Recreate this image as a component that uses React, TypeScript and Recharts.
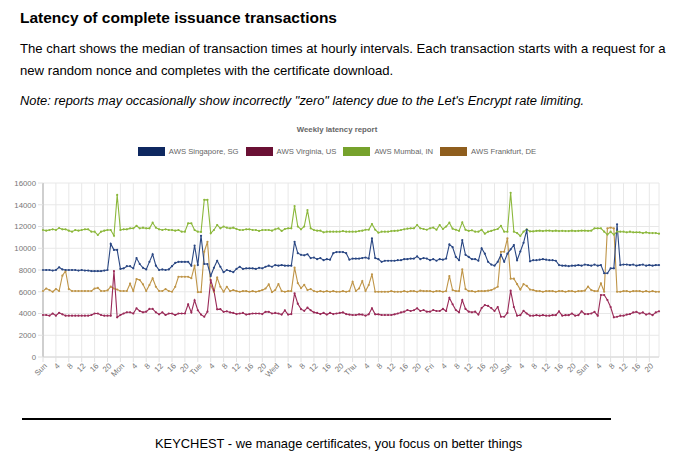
import React from 'react';
import { LineChart, Line, XAxis, YAxis, CartesianGrid } from 'recharts';

// tick labels
const dayNames = ['Sun', 'Mon', 'Tue', 'Wed', 'Thu', 'Fri', 'Sat', 'Sun'];
const yTicks = [0, 2000, 4000, 6000, 8000, 10000, 12000, 14000, 16000];

// hourly medians (ms), Sun 0h .. next Sun 23h
const singapore = [
  8000, 8000, 8000, 7950, 8000, 8250, 8050, 8000, 8000, 8000, 8000, 7950, 8000, 7950, 7950, 7900, 7900, 7900, 7900, 7950, 8000, 10400, 9850, 9850,
  8100, 8150, 8350, 8350, 8150, 9100, 8550, 8200, 8050, 8750, 9450, 8400, 8000, 8050, 8000, 8050, 8350, 8650, 8750, 8750, 8750, 8750, 8400, 10250,
  8450, 11150, 8550, 8550, 7450, 8200, 8850, 8300, 7800, 8000, 7900, 7800, 8100, 8300, 8100, 8150, 8150, 8150, 8100, 8200, 8150, 8300, 8400, 8300,
  8450, 8400, 8450, 8400, 8400, 8400, 10600, 9550, 9400, 9350, 9450, 9100, 9150, 9000, 9100, 8900, 9000, 8950, 9550, 9650, 9650, 9650, 9550, 8950,
  9050, 9050, 9050, 9100, 9150, 9050, 10900, 9100, 9000, 8750, 8850, 8850, 8850, 8850, 8900, 8900, 9000, 9000, 9050, 9050, 9250, 9000, 9100, 9050,
  8900, 9000, 8850, 9000, 8950, 9050, 10350, 10100, 9200, 8900, 10750, 9400, 9200, 9000, 9000, 8850, 10000, 9500, 8750, 8500, 8400, 8750, 9400, 8750,
  9500, 9900, 10300, 8900, 9700, 10500, 11700, 8800, 8900, 8900, 8950, 9000, 8950, 8900, 8900, 8850, 8450, 8400, 8400, 8350, 8400, 8400, 8450, 8400,
  8500, 8450, 8400, 8500, 8400, 8450, 7700, 7700, 8150, 8150, 12200, 8450, 8500, 8500, 8450, 8500, 8400, 8450, 8500, 8400, 8450, 8400, 8450, 8450,
];

const virginia = [
  3860, 3860, 3800, 4000, 3800, 4070, 3920, 3800, 3800, 3800, 3800, 3800, 3800, 3800, 3800, 3860, 4000, 4000, 3860, 3800, 3800, 3800, 7900, 3650,
  3860, 4000, 4110, 4110, 4000, 4480, 4230, 4110, 4170, 4420, 4420, 4110, 3920, 4110, 3860, 4000, 4000, 3860, 4000, 4000, 4000, 4850, 4100, 5220,
  4300, 3900, 3700, 4170, 7080, 6100, 4380, 4400, 4150, 4200, 4100, 4050, 3950, 4000, 4050, 3900, 3950, 4000, 4000, 4000, 3950, 4150, 4150, 4000,
  4050, 4000, 3900, 4290, 3900, 3950, 5860, 4900, 4400, 4250, 4540, 4300, 4100, 4050, 3950, 4050, 3900, 4050, 3950, 4000, 4050, 4100, 3950, 3900,
  3860, 3860, 3920, 3900, 3800, 3920, 4480, 3920, 3920, 3860, 3860, 3860, 3860, 3920, 4000, 4100, 4170, 4320, 4230, 4300, 4480, 4230, 4320, 4170,
  4170, 4320, 4230, 4230, 4420, 4230, 5450, 4850, 4320, 4110, 5240, 4420, 4170, 4110, 4170, 3900, 4500, 4780, 4700, 4500, 4230, 4600, 3700, 3700,
  4050, 6100, 4600, 3800, 3850, 4250, 4000, 3800, 3800, 3850, 3800, 3850, 3800, 3800, 3850, 3850, 4200, 3800, 3850, 3850, 4000, 3800, 3850, 4200,
  3950, 3950, 4000, 4150, 3800, 5700, 5700, 5240, 4600, 3650, 3700, 3800, 3800, 3900, 3950, 4100, 4150, 4000, 4100, 3900, 4000, 3850, 4100, 4200,
];

const mumbai = [
  11680, 11620, 11680, 11740, 11680, 11860, 11740, 11740, 11620, 11520, 11680, 11620, 11680, 11740, 11740, 11520, 11520, 11220, 11520, 11620, 11680, 11680, 11150, 14900,
  11680, 11740, 11740, 11830, 11830, 12070, 11830, 11890, 11830, 11830, 12350, 11890, 11740, 11680, 11740, 11680, 11680, 11620, 11680, 11520, 11520, 12290, 12290, 11680,
  11520, 11500, 14450, 14450, 11370, 11680, 12140, 11830, 12000, 11890, 11830, 11890, 11770, 11680, 11680, 11740, 11740, 11680, 11680, 11590, 11680, 11680, 11680, 11620,
  11740, 11830, 11590, 11770, 11830, 11830, 13880, 12000, 11740, 12000, 13510, 11830, 11680, 11620, 11620, 11460, 11520, 11520, 11520, 11520, 11520, 11580, 11520, 11520,
  11520, 11520, 11580, 11620, 11700, 11700, 12230, 11700, 11430, 11520, 11520, 11520, 11580, 11600, 11620, 11680, 11740, 11800, 11830, 11830, 12140, 11830, 11770, 11700,
  11830, 11900, 11700, 12140, 11770, 12000, 12350, 11800, 11700, 11600, 12380, 11700, 11600, 11650, 11520, 11520, 11700, 11340, 11520, 11600, 11700, 11770, 12050, 11520,
  11520, 15100, 11520, 11400, 11130, 11520, 11740, 11550, 11550, 11600, 11620, 11580, 11620, 11620, 11580, 11620, 11580, 11600, 11580, 11580, 11620, 11580, 11600, 11620,
  11620, 11600, 11620, 11830, 11830, 11830, 11520, 11260, 11520, 11260, 11520, 11520, 11520, 11460, 11520, 11460, 11460, 11460, 11400, 11460, 11400, 11400, 11400, 11340,
];

const frankfurt = [
  6070, 6300, 6150, 6000, 6250, 6070, 7480, 7910, 6250, 6070, 6070, 6070, 6070, 6070, 6070, 6070, 6300, 6350, 6070, 6070, 6120, 6470, 6300, 6200,
  6070, 6070, 6070, 6740, 6070, 7170, 7080, 6680, 6070, 6620, 7240, 6460, 6070, 6070, 6250, 6070, 6000, 6460, 7380, 7380, 7380, 7380, 7240, 8400,
  5970, 5970, 9680, 10600, 6620, 6000, 7290, 6460, 6000, 6460, 6060, 6150, 6060, 6000, 6060, 6060, 6000, 6060, 6000, 6060, 6150, 6300, 6680, 5970,
  6150, 6710, 6060, 6000, 6060, 6060, 8210, 6800, 6340, 6640, 6150, 6250, 6060, 6000, 6060, 6000, 6060, 6000, 6060, 6000, 6000, 6060, 6000, 6060,
  6920, 6070, 6300, 6990, 6070, 6620, 7600, 6000, 6000, 6000, 6000, 6000, 6060, 6000, 6000, 6000, 6060, 6000, 6060, 6060, 6000, 6100, 6060, 6060,
  6060, 6000, 6060, 6060, 6000, 6060, 7450, 6150, 6060, 6060, 8060, 6250, 6060, 6060, 6000, 6060, 6060, 6060, 6100, 6150, 6300, 6460, 9680, 9680,
  10900, 7200, 7200, 6700, 6200, 6700, 6540, 6200, 6150, 6060, 6060, 6000, 6060, 6060, 6060, 6000, 6060, 6060, 6000, 6060, 6060, 6000, 6060, 6060,
  6100, 6470, 6150, 6060, 6060, 6770, 6000, 11830, 11900, 11830, 6000, 6000, 6060, 6060, 6000, 6060, 6060, 6060, 6000, 6060, 6000, 6060, 6000, 6000,
];

const series = [
  { key: 'sg', name: 'AWS Singapore, SG', line: '#2a4783', box: '#0e2860' },
  { key: 'va', name: 'AWS Virginia, US', line: '#9a2a58', box: '#6a1034' },
  { key: 'mb', name: 'AWS Mumbai, IN', line: '#8cb83c', box: '#76a22c' },
  { key: 'fr', name: 'AWS Frankfurt, DE', line: '#bf9548', box: '#8f5e1e' },
];

const data = singapore.map((v, i) => ({
  idx: i,
  sg: v,
  va: virginia[i],
  mb: mumbai[i],
  fr: frankfurt[i],
}));

// one label every 4 hours
const xTicks = data.filter((d) => d.idx % 4 === 0).map((d) => d.idx);

const hourLabel = (i: number) => (i % 24 === 0 ? dayNames[i / 24] : String(i % 24));

const font = '"Liberation Sans", Arial, Helvetica, sans-serif';

const XTick = ({ x, y, payload }: any) => (
  <text
    x={x + 2}
    y={y}
    transform={`rotate(-45 ${x + 2} ${y})`}
    textAnchor="end"
    dy="0.45em"
    fontSize={7.8}
    fill="#777"
    fontFamily={font}
  >
    {hourLabel(payload.value)}
  </text>
);

const App: React.FC = () => {
  return (
    <div style={{ position: 'absolute', left: 0, top: 0, width: 690, height: 459, background: '#fff', fontFamily: font, color: '#000' }}>
      <div style={{ position: 'absolute', left: 20, top: 9, fontSize: 15.5, lineHeight: '18px', fontWeight: 'bold', whiteSpace: 'nowrap' }}>
        Latency of complete issuance transactions
      </div>
      <div style={{ position: 'absolute', left: 20, top: 41, fontSize: 13.15, lineHeight: '16px', whiteSpace: 'nowrap' }}>
        The chart shows the median of transaction times at hourly intervals. Each transaction starts with a request for a
      </div>
      <div style={{ position: 'absolute', left: 20, top: 63, fontSize: 13.15, lineHeight: '16px', whiteSpace: 'nowrap' }}>
        new random nonce and completes with the certificate download.
      </div>
      <div style={{ position: 'absolute', left: 20, top: 93, fontSize: 12.85, lineHeight: '16px', fontStyle: 'italic', whiteSpace: 'nowrap' }}>
        Note: reports may occasionally show incorrectly "zero" latency due to the Let's Encrypt rate limiting.
      </div>

      <div style={{ position: 'absolute', left: 0, top: 125, width: 674, textAlign: 'center', fontSize: 7.8, lineHeight: '10px', fontWeight: 'bold', color: '#666' }}>
        Weekly latency report
      </div>
      <div style={{ position: 'absolute', left: 0, top: 147, width: 674, display: 'flex', justifyContent: 'center', gap: 7, fontSize: 7.7, lineHeight: '9px', color: '#666' }}>
        {series.map((s) => (
          <div key={s.key} style={{ display: 'flex', alignItems: 'center', gap: 4 }}>
            <span style={{ display: 'inline-block', width: 25, height: 7, background: s.box, border: `1px solid ${s.box}` }} />
            <span style={{ whiteSpace: 'nowrap' }}>{s.name}</span>
          </div>
        ))}
      </div>

      <div style={{ position: 'absolute', left: 0, top: 170 }}>
        <LineChart width={690} height={230} data={data} margin={{ top: 13, right: 31, left: 3, bottom: 3 }}>
          <CartesianGrid stroke="#e8e8e8" strokeWidth={1} />
          <XAxis
            dataKey="idx"
            type="number"
            domain={[0, 191]}
            ticks={xTicks}
            interval={0}
            tick={<XTick />}
            tickSize={5}
            tickLine={{ stroke: '#e0e0e0' }}
            axisLine={{ stroke: '#d6d6d6' }}
            height={40}
          />
          <YAxis
            domain={[0, 16000]}
            ticks={yTicks}
            interval={0}
            tickSize={5}
            tickMargin={2}
            width={40}
            tick={{ fontSize: 7.8, fill: '#777', fontFamily: font }}
            tickLine={{ stroke: '#e0e0e0' }}
            axisLine={{ stroke: '#cfcfcf', strokeWidth: 2 }}
          />
          {series
            .slice()
            .reverse()
            .map((s) => (
              <Line
                key={s.key}
                type="linear"
                dataKey={s.key}
                name={s.name}
                stroke={s.line}
                strokeWidth={1.1}
                dot={{ r: 1.1, fill: s.line, stroke: 'none' }}
                activeDot={false}
                isAnimationActive={false}
              />
            ))}
        </LineChart>
      </div>

      <div style={{ position: 'absolute', left: 22, top: 418, width: 589, height: 2, background: '#000' }} />
      <div style={{ position: 'absolute', left: 155, top: 436, fontSize: 12.9, lineHeight: '16px', whiteSpace: 'nowrap' }}>
        KEYCHEST - we manage certificates, you focus on better things
      </div>
    </div>
  );
};

export default App;
